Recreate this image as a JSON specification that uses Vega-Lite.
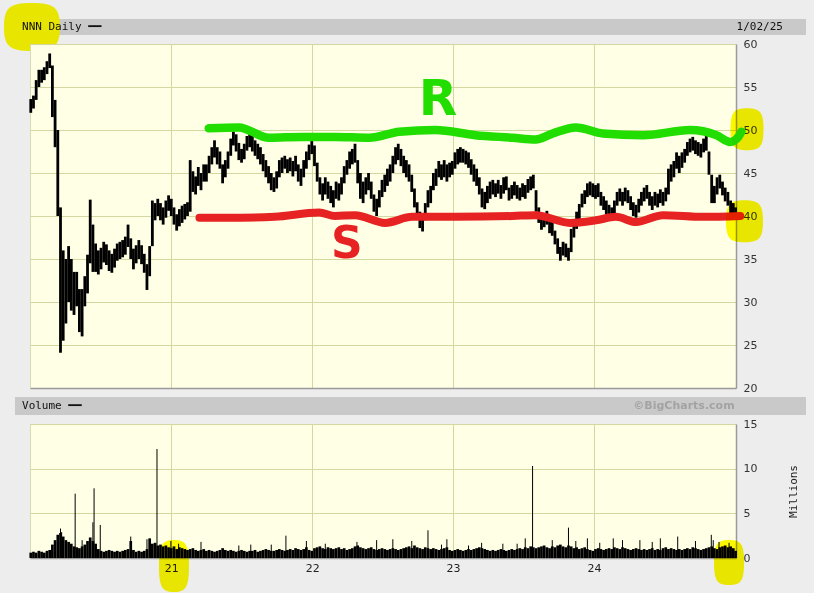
{
"$schema": "https://vega.github.io/schema/vega-lite/v6.json",
"background": "#ededed",
"padding": {"left": 3, "top": 3, "right": 9, "bottom": 1},
"config": {"view": {"stroke": null}, "font": "DejaVu Sans"},
"bounds": "flush",
"spacing": 9,
"datasets": {
"weeks": [
{"d":"2020-01-03","low":52.0,"high":53.6,"vol":0.6},{"d":"2020-01-10","low":52.5,"high":54.0,"vol":0.7},{"d":"2020-01-17","low":53.5,"high":55.8,"vol":0.6},{"d":"2020-01-24","low":55.0,"high":57.0,"vol":0.8},{"d":"2020-01-31","low":55.5,"high":57.0,"vol":0.7},{"d":"2020-02-07","low":55.8,"high":57.3,"vol":0.6},{"d":"2020-02-14","low":56.5,"high":58.0,"vol":0.8},{"d":"2020-02-21","low":57.2,"high":58.9,"vol":0.9},{"d":"2020-02-28","low":51.5,"high":57.5,"vol":1.5},{"d":"2020-03-06","low":48.0,"high":53.5,"vol":2.0},{"d":"2020-03-13","low":40.0,"high":50.0,"vol":2.6},{"d":"2020-03-20","low":24.1,"high":41.0,"vol":2.8},{"d":"2020-03-27","low":25.5,"high":36.0,"vol":2.4},{"d":"2020-04-03","low":27.5,"high":35.0,"vol":2.0},{"d":"2020-04-10","low":30.0,"high":36.5,"vol":1.8},{"d":"2020-04-17","low":29.0,"high":35.0,"vol":1.6},{"d":"2020-04-24","low":28.5,"high":33.5,"vol":1.3},{"d":"2020-05-01","low":29.5,"high":33.5,"vol":1.2},{"d":"2020-05-08","low":26.5,"high":31.5,"vol":1.1},{"d":"2020-05-15","low":26.0,"high":31.5,"vol":1.3},{"d":"2020-05-22","low":29.5,"high":33.0,"vol":1.5},{"d":"2020-05-29","low":31.0,"high":35.5,"vol":1.9},{"d":"2020-06-05","low":34.5,"high":41.9,"vol":2.3},{"d":"2020-06-12","low":33.5,"high":39.0,"vol":1.9},{"d":"2020-06-19","low":33.5,"high":36.8,"vol":1.6},{"d":"2020-06-26","low":33.2,"high":36.0,"vol":1.0},{"d":"2020-07-03","low":33.8,"high":36.3,"vol":0.8},{"d":"2020-07-10","low":34.6,"high":37.0,"vol":0.7},{"d":"2020-07-17","low":34.3,"high":36.7,"vol":0.8},{"d":"2020-07-24","low":33.6,"high":36.0,"vol":0.9},{"d":"2020-07-31","low":33.4,"high":35.6,"vol":0.8},{"d":"2020-08-07","low":34.0,"high":36.2,"vol":0.7},{"d":"2020-08-14","low":34.8,"high":36.8,"vol":0.8},{"d":"2020-08-21","low":35.0,"high":37.0,"vol":0.7},{"d":"2020-08-28","low":35.2,"high":37.2,"vol":0.8},{"d":"2020-09-04","low":35.5,"high":37.6,"vol":0.9},{"d":"2020-09-11","low":36.4,"high":39.0,"vol":1.0},{"d":"2020-09-18","low":35.0,"high":37.4,"vol":1.9},{"d":"2020-09-25","low":33.8,"high":36.2,"vol":0.9},{"d":"2020-10-02","low":34.5,"high":36.6,"vol":0.7},{"d":"2020-10-09","low":35.0,"high":37.2,"vol":0.8},{"d":"2020-10-16","low":34.4,"high":36.6,"vol":0.7},{"d":"2020-10-23","low":33.4,"high":35.6,"vol":0.8},{"d":"2020-10-30","low":31.4,"high":34.4,"vol":1.0},{"d":"2020-11-06","low":33.0,"high":36.5,"vol":2.2},{"d":"2020-11-13","low":36.5,"high":41.8,"vol":1.6},{"d":"2020-11-20","low":39.5,"high":41.5,"vol":1.7},{"d":"2020-11-27","low":40.0,"high":42.0,"vol":1.4},{"d":"2020-12-04","low":39.5,"high":41.5,"vol":1.5},{"d":"2020-12-11","low":39.0,"high":41.0,"vol":1.3},{"d":"2020-12-18","low":39.8,"high":41.8,"vol":1.4},{"d":"2020-12-25","low":40.6,"high":42.4,"vol":1.2},
{"d":"2021-01-01","low":40.0,"high":42.0,"vol":1.1},{"d":"2021-01-08","low":39.0,"high":41.0,"vol":1.3},{"d":"2021-01-15","low":38.3,"high":40.2,"vol":1.0},{"d":"2021-01-22","low":38.8,"high":40.8,"vol":1.2},{"d":"2021-01-29","low":39.2,"high":41.2,"vol":1.1},{"d":"2021-02-05","low":39.6,"high":41.4,"vol":1.0},{"d":"2021-02-12","low":40.0,"high":41.6,"vol":0.9},{"d":"2021-02-19","low":40.5,"high":46.5,"vol":1.0},{"d":"2021-02-26","low":42.8,"high":45.2,"vol":1.1},{"d":"2021-03-05","low":42.5,"high":44.6,"vol":0.9},{"d":"2021-03-12","low":43.5,"high":45.7,"vol":0.8},{"d":"2021-03-19","low":43.0,"high":45.0,"vol":0.9},{"d":"2021-03-26","low":44.0,"high":46.0,"vol":1.0},{"d":"2021-04-02","low":44.0,"high":46.0,"vol":0.8},{"d":"2021-04-09","low":45.0,"high":47.0,"vol":0.9},{"d":"2021-04-16","low":46.0,"high":48.0,"vol":0.8},{"d":"2021-04-23","low":46.8,"high":48.8,"vol":0.7},{"d":"2021-04-30","low":46.0,"high":48.0,"vol":0.8},{"d":"2021-05-07","low":45.5,"high":47.5,"vol":0.9},{"d":"2021-05-14","low":43.8,"high":46.0,"vol":1.1},{"d":"2021-05-21","low":44.5,"high":46.5,"vol":0.9},{"d":"2021-05-28","low":45.5,"high":47.5,"vol":0.8},{"d":"2021-06-04","low":47.0,"high":49.0,"vol":0.9},{"d":"2021-06-11","low":48.2,"high":49.8,"vol":0.8},{"d":"2021-06-18","low":47.5,"high":49.5,"vol":0.7},{"d":"2021-06-25","low":46.5,"high":48.5,"vol":0.8},{"d":"2021-07-02","low":46.2,"high":47.8,"vol":0.9},{"d":"2021-07-09","low":46.6,"high":48.4,"vol":0.8},{"d":"2021-07-16","low":47.6,"high":49.3,"vol":0.7},{"d":"2021-07-23","low":48.0,"high":49.8,"vol":0.8},{"d":"2021-07-30","low":47.5,"high":49.3,"vol":0.8},{"d":"2021-08-06","low":47.0,"high":48.8,"vol":0.9},{"d":"2021-08-13","low":46.6,"high":48.4,"vol":0.7},{"d":"2021-08-20","low":46.0,"high":48.0,"vol":0.8},{"d":"2021-08-27","low":45.2,"high":47.2,"vol":0.9},{"d":"2021-09-03","low":44.5,"high":46.5,"vol":1.0},{"d":"2021-09-10","low":43.8,"high":45.8,"vol":0.9},{"d":"2021-09-17","low":43.0,"high":45.0,"vol":0.8},{"d":"2021-09-24","low":42.8,"high":44.5,"vol":0.8},{"d":"2021-10-01","low":43.2,"high":45.2,"vol":0.9},{"d":"2021-10-08","low":44.5,"high":46.5,"vol":1.0},{"d":"2021-10-15","low":45.0,"high":46.8,"vol":0.9},{"d":"2021-10-22","low":45.5,"high":47.0,"vol":0.8},{"d":"2021-10-29","low":45.0,"high":46.6,"vol":0.9},{"d":"2021-11-05","low":45.2,"high":46.8,"vol":1.0},{"d":"2021-11-12","low":44.6,"high":46.4,"vol":0.9},{"d":"2021-11-19","low":45.2,"high":47.0,"vol":1.1},{"d":"2021-11-26","low":44.0,"high":46.0,"vol":1.0},{"d":"2021-12-03","low":43.5,"high":45.5,"vol":0.9},{"d":"2021-12-10","low":44.5,"high":46.5,"vol":1.0},{"d":"2021-12-17","low":45.5,"high":47.5,"vol":1.2},{"d":"2021-12-24","low":46.5,"high":48.3,"vol":0.9},{"d":"2021-12-31","low":47.2,"high":48.8,"vol":0.8},
{"d":"2022-01-07","low":45.8,"high":48.2,"vol":1.1},{"d":"2022-01-14","low":44.0,"high":46.2,"vol":1.2},{"d":"2022-01-21","low":42.5,"high":44.5,"vol":1.3},{"d":"2022-01-28","low":41.8,"high":43.8,"vol":1.1},{"d":"2022-02-04","low":42.5,"high":44.5,"vol":1.0},{"d":"2022-02-11","low":42.0,"high":44.0,"vol":1.2},{"d":"2022-02-18","low":41.5,"high":43.5,"vol":1.1},{"d":"2022-02-25","low":41.0,"high":43.0,"vol":1.0},{"d":"2022-03-04","low":42.0,"high":44.0,"vol":1.1},{"d":"2022-03-11","low":41.8,"high":43.8,"vol":1.2},{"d":"2022-03-18","low":42.5,"high":44.5,"vol":1.0},{"d":"2022-03-25","low":43.8,"high":45.8,"vol":1.1},{"d":"2022-04-01","low":44.8,"high":46.5,"vol":0.9},{"d":"2022-04-08","low":45.5,"high":47.5,"vol":1.0},{"d":"2022-04-15","low":46.0,"high":47.8,"vol":1.1},{"d":"2022-04-22","low":46.2,"high":48.4,"vol":1.3},{"d":"2022-04-29","low":43.8,"high":46.5,"vol":1.4},{"d":"2022-05-06","low":42.0,"high":45.0,"vol":1.2},{"d":"2022-05-13","low":41.5,"high":44.0,"vol":1.1},{"d":"2022-05-20","low":42.5,"high":44.5,"vol":1.0},{"d":"2022-05-27","low":43.0,"high":45.0,"vol":1.1},{"d":"2022-06-03","low":42.0,"high":44.0,"vol":1.2},{"d":"2022-06-10","low":40.5,"high":42.5,"vol":1.0},{"d":"2022-06-17","low":40.0,"high":42.0,"vol":0.9},{"d":"2022-06-24","low":41.0,"high":43.0,"vol":1.0},{"d":"2022-07-01","low":42.2,"high":44.2,"vol":1.1},{"d":"2022-07-08","low":42.8,"high":44.8,"vol":1.0},{"d":"2022-07-15","low":43.5,"high":45.5,"vol":0.9},{"d":"2022-07-22","low":44.0,"high":46.0,"vol":1.0},{"d":"2022-07-29","low":45.0,"high":47.0,"vol":1.1},{"d":"2022-08-05","low":46.0,"high":48.0,"vol":1.0},{"d":"2022-08-12","low":46.5,"high":48.4,"vol":0.9},{"d":"2022-08-19","low":45.8,"high":47.8,"vol":1.0},{"d":"2022-08-26","low":45.0,"high":47.0,"vol":1.1},{"d":"2022-09-02","low":44.5,"high":46.5,"vol":1.2},{"d":"2022-09-09","low":44.0,"high":46.0,"vol":1.3},{"d":"2022-09-16","low":42.8,"high":44.8,"vol":1.1},{"d":"2022-09-23","low":41.0,"high":43.2,"vol":1.4},{"d":"2022-09-30","low":39.6,"high":41.6,"vol":1.2},{"d":"2022-10-07","low":38.6,"high":40.5,"vol":1.1},{"d":"2022-10-14","low":38.2,"high":40.0,"vol":1.0},{"d":"2022-10-21","low":39.5,"high":41.5,"vol":1.2},{"d":"2022-10-28","low":41.0,"high":43.0,"vol":1.1},{"d":"2022-11-04","low":41.5,"high":43.5,"vol":1.0},{"d":"2022-11-11","low":43.0,"high":45.0,"vol":1.1},{"d":"2022-11-18","low":43.5,"high":45.5,"vol":1.0},{"d":"2022-11-25","low":44.5,"high":46.4,"vol":0.9},{"d":"2022-12-02","low":44.2,"high":46.0,"vol":1.0},{"d":"2022-12-09","low":44.5,"high":46.5,"vol":1.1},{"d":"2022-12-16","low":44.0,"high":46.0,"vol":1.2},{"d":"2022-12-23","low":44.5,"high":46.2,"vol":0.9},{"d":"2022-12-30","low":44.8,"high":46.4,"vol":0.8},
{"d":"2023-01-06","low":45.5,"high":47.4,"vol":0.9},{"d":"2023-01-13","low":46.0,"high":47.8,"vol":1.0},{"d":"2023-01-20","low":46.2,"high":48.0,"vol":0.9},{"d":"2023-01-27","low":46.2,"high":47.8,"vol":0.8},{"d":"2023-02-03","low":46.0,"high":47.6,"vol":0.9},{"d":"2023-02-10","low":45.6,"high":47.4,"vol":1.0},{"d":"2023-02-17","low":44.8,"high":46.6,"vol":0.9},{"d":"2023-02-24","low":44.0,"high":46.0,"vol":1.0},{"d":"2023-03-03","low":43.5,"high":45.5,"vol":1.1},{"d":"2023-03-10","low":42.5,"high":44.5,"vol":1.2},{"d":"2023-03-17","low":41.0,"high":43.2,"vol":1.1},{"d":"2023-03-24","low":40.8,"high":42.8,"vol":1.0},{"d":"2023-03-31","low":41.5,"high":43.5,"vol":0.9},{"d":"2023-04-07","low":42.0,"high":44.0,"vol":0.8},{"d":"2023-04-14","low":42.5,"high":44.2,"vol":0.9},{"d":"2023-04-21","low":42.2,"high":43.8,"vol":0.8},{"d":"2023-04-28","low":42.6,"high":44.2,"vol":0.9},{"d":"2023-05-05","low":42.0,"high":43.6,"vol":1.0},{"d":"2023-05-12","low":42.6,"high":44.5,"vol":0.9},{"d":"2023-05-19","low":43.0,"high":44.6,"vol":0.8},{"d":"2023-05-26","low":41.8,"high":43.3,"vol":0.9},{"d":"2023-06-02","low":42.0,"high":43.6,"vol":1.0},{"d":"2023-06-09","low":42.4,"high":44.0,"vol":0.9},{"d":"2023-06-16","low":42.0,"high":43.6,"vol":1.0},{"d":"2023-06-23","low":41.8,"high":43.3,"vol":1.1},{"d":"2023-06-30","low":42.2,"high":43.8,"vol":1.0},{"d":"2023-07-07","low":42.0,"high":43.6,"vol":1.2},{"d":"2023-07-14","low":42.7,"high":44.3,"vol":1.1},{"d":"2023-07-21","low":43.0,"high":44.6,"vol":1.3},{"d":"2023-07-28","low":43.2,"high":44.8,"vol":1.2},{"d":"2023-08-04","low":40.5,"high":43.0,"vol":1.1},{"d":"2023-08-11","low":39.2,"high":41.0,"vol":1.2},{"d":"2023-08-18","low":38.4,"high":40.0,"vol":1.3},{"d":"2023-08-25","low":38.7,"high":40.3,"vol":1.4},{"d":"2023-09-01","low":39.0,"high":40.6,"vol":1.2},{"d":"2023-09-08","low":38.0,"high":39.6,"vol":1.1},{"d":"2023-09-15","low":37.7,"high":39.3,"vol":1.3},{"d":"2023-09-22","low":36.7,"high":38.3,"vol":1.2},{"d":"2023-09-29","low":35.6,"high":37.4,"vol":1.4},{"d":"2023-10-06","low":34.8,"high":36.4,"vol":1.5},{"d":"2023-10-13","low":35.4,"high":37.0,"vol":1.3},{"d":"2023-10-20","low":35.2,"high":36.8,"vol":1.2},{"d":"2023-10-27","low":34.8,"high":36.3,"vol":1.4},{"d":"2023-11-03","low":35.8,"high":38.5,"vol":1.3},{"d":"2023-11-10","low":37.5,"high":39.5,"vol":1.1},{"d":"2023-11-17","low":38.5,"high":40.5,"vol":1.2},{"d":"2023-11-24","low":39.6,"high":41.4,"vol":1.0},{"d":"2023-12-01","low":41.0,"high":42.6,"vol":1.1},{"d":"2023-12-08","low":41.4,"high":43.0,"vol":1.2},{"d":"2023-12-15","low":42.2,"high":43.8,"vol":1.0},{"d":"2023-12-22","low":42.4,"high":44.0,"vol":0.9},{"d":"2023-12-29","low":42.2,"high":43.8,"vol":0.8},
{"d":"2024-01-05","low":42.0,"high":43.6,"vol":1.0},{"d":"2024-01-12","low":42.2,"high":43.8,"vol":1.1},{"d":"2024-01-19","low":41.2,"high":42.8,"vol":1.0},{"d":"2024-01-26","low":40.7,"high":42.3,"vol":0.9},{"d":"2024-02-02","low":40.2,"high":41.8,"vol":1.0},{"d":"2024-02-09","low":39.8,"high":41.3,"vol":1.1},{"d":"2024-02-16","low":39.5,"high":41.0,"vol":1.0},{"d":"2024-02-23","low":40.2,"high":41.8,"vol":1.2},{"d":"2024-03-01","low":41.2,"high":42.8,"vol":1.1},{"d":"2024-03-08","low":41.7,"high":43.2,"vol":1.0},{"d":"2024-03-15","low":41.2,"high":42.8,"vol":1.2},{"d":"2024-03-22","low":41.7,"high":43.3,"vol":1.1},{"d":"2024-03-29","low":41.5,"high":43.0,"vol":1.0},{"d":"2024-04-05","low":40.7,"high":42.3,"vol":0.9},{"d":"2024-04-12","low":40.0,"high":41.6,"vol":1.0},{"d":"2024-04-19","low":39.8,"high":41.3,"vol":1.1},{"d":"2024-04-26","low":40.4,"high":42.0,"vol":1.0},{"d":"2024-05-03","low":41.2,"high":42.8,"vol":0.9},{"d":"2024-05-10","low":41.7,"high":43.3,"vol":1.0},{"d":"2024-05-17","low":42.0,"high":43.6,"vol":0.9},{"d":"2024-05-24","low":41.2,"high":42.8,"vol":1.0},{"d":"2024-05-31","low":40.7,"high":42.3,"vol":1.1},{"d":"2024-06-07","low":41.2,"high":42.8,"vol":0.9},{"d":"2024-06-14","low":41.0,"high":42.6,"vol":1.0},{"d":"2024-06-21","low":41.5,"high":43.1,"vol":0.9},{"d":"2024-06-28","low":41.2,"high":42.8,"vol":1.1},{"d":"2024-07-05","low":41.7,"high":43.3,"vol":1.2},{"d":"2024-07-12","low":42.5,"high":45.5,"vol":1.0},{"d":"2024-07-19","low":44.0,"high":46.0,"vol":1.1},{"d":"2024-07-26","low":44.5,"high":46.4,"vol":1.0},{"d":"2024-08-02","low":45.5,"high":47.4,"vol":0.9},{"d":"2024-08-09","low":45.0,"high":47.0,"vol":1.0},{"d":"2024-08-16","low":45.6,"high":47.4,"vol":0.9},{"d":"2024-08-23","low":46.2,"high":47.8,"vol":1.0},{"d":"2024-08-30","low":47.0,"high":48.6,"vol":1.1},{"d":"2024-09-06","low":47.4,"high":49.0,"vol":1.0},{"d":"2024-09-13","low":47.6,"high":49.2,"vol":1.2},{"d":"2024-09-20","low":47.2,"high":48.8,"vol":1.1},{"d":"2024-09-27","low":47.0,"high":48.6,"vol":1.0},{"d":"2024-10-04","low":46.8,"high":48.4,"vol":0.9},{"d":"2024-10-11","low":47.4,"high":49.0,"vol":1.0},{"d":"2024-10-18","low":47.6,"high":49.3,"vol":1.1},{"d":"2024-10-25","low":44.8,"high":47.5,"vol":1.2},{"d":"2024-11-01","low":41.5,"high":44.8,"vol":1.3},{"d":"2024-11-08","low":41.5,"high":43.5,"vol":1.1},{"d":"2024-11-15","low":42.5,"high":44.5,"vol":1.0},{"d":"2024-11-22","low":43.2,"high":44.8,"vol":1.2},{"d":"2024-11-29","low":42.4,"high":44.0,"vol":1.3},{"d":"2024-12-06","low":41.7,"high":43.3,"vol":1.4},{"d":"2024-12-13","low":41.2,"high":42.8,"vol":1.2},{"d":"2024-12-20","low":40.2,"high":41.8,"vol":1.3},{"d":"2024-12-27","low":40.2,"high":41.5,"vol":1.1},{"d":"2025-01-02","low":40.2,"high":41.0,"vol":0.8}
],
"spikes": [
{"d":"2020-03-20","vol":3.3},{"d":"2020-03-23","vol":2.9},{"d":"2020-04-27","vol":7.2},{"d":"2020-05-15","vol":2.0},{"d":"2020-06-12","vol":4.0},{"d":"2020-06-15","vol":7.8},{"d":"2020-07-01","vol":3.7},{"d":"2020-09-18","vol":2.4},{"d":"2020-10-30","vol":2.1},{"d":"2020-11-25","vol":12.2},{"d":"2020-12-31","vol":1.9},{"d":"2021-01-20","vol":1.6},{"d":"2021-03-19","vol":1.8},{"d":"2021-06-25","vol":1.4},{"d":"2021-07-26","vol":1.5},{"d":"2021-09-17","vol":1.5},{"d":"2021-10-25","vol":2.5},{"d":"2021-12-17","vol":1.9},{"d":"2022-02-04","vol":1.6},{"d":"2022-04-27","vol":1.8},{"d":"2022-06-17","vol":2.0},{"d":"2022-07-29","vol":2.1},{"d":"2022-09-16","vol":1.9},{"d":"2022-10-28","vol":3.1},{"d":"2022-12-02","vol":1.5},{"d":"2022-12-16","vol":2.1},{"d":"2023-02-10","vol":1.4},{"d":"2023-03-16","vol":1.7},{"d":"2023-05-10","vol":1.6},{"d":"2023-06-16","vol":1.6},{"d":"2023-07-07","vol":2.2},{"d":"2023-07-26","vol":10.3},{"d":"2023-09-15","vol":2.0},{"d":"2023-10-27","vol":3.4},{"d":"2023-11-15","vol":1.9},{"d":"2023-12-15","vol":2.2},{"d":"2024-01-16","vol":1.7},{"d":"2024-02-20","vol":2.2},{"d":"2024-03-15","vol":2.0},{"d":"2024-04-29","vol":2.0},{"d":"2024-05-31","vol":1.8},{"d":"2024-06-21","vol":2.2},{"d":"2024-08-05","vol":2.4},{"d":"2024-09-20","vol":1.9},{"d":"2024-10-31","vol":2.6},{"d":"2024-11-05","vol":2.0},{"d":"2024-11-20","vol":1.8},{"d":"2024-12-16","vol":1.7}
],
"res": [
{"d":"2021-04-08","price":50.2},{"d":"2021-06-25","price":50.3},{"d":"2021-09-11","price":49.1},{"d":"2021-12-05","price":49.2},{"d":"2022-03-01","price":49.2},{"d":"2022-05-29","price":49.1},{"d":"2022-08-15","price":49.8},{"d":"2022-11-16","price":50.0},{"d":"2023-02-28","price":49.4},{"d":"2023-06-04","price":49.1},{"d":"2023-08-03","price":48.9},{"d":"2023-09-16","price":49.6},{"d":"2023-11-15","price":50.3},{"d":"2024-01-24","price":49.6},{"d":"2024-05-07","price":49.4},{"d":"2024-09-06","price":50.0},{"d":"2024-11-13","price":49.4},{"d":"2024-12-19","price":48.6},{"d":"2025-01-09","price":49.2},{"d":"2025-01-17","price":49.8}
],
"sup": [
{"d":"2021-03-15","price":39.8},{"d":"2021-07-02","price":39.8},{"d":"2021-09-26","price":39.9},{"d":"2022-01-19","price":40.4},{"d":"2022-03-01","price":40.0},{"d":"2022-04-22","price":40.1},{"d":"2022-07-09","price":39.2},{"d":"2022-09-17","price":39.9},{"d":"2023-01-07","price":39.9},{"d":"2023-06-04","price":40.0},{"d":"2023-08-03","price":40.1},{"d":"2023-10-31","price":39.2},{"d":"2024-01-06","price":39.5},{"d":"2024-02-27","price":39.9},{"d":"2024-04-19","price":39.3},{"d":"2024-06-28","price":40.1},{"d":"2024-10-10","price":39.9},{"d":"2025-01-14","price":40.0}
]
},
"vconcat": [
{
"width": 706, "height": 16,
"layer": [
{"data": {"values": [{}]},
 "mark": {"type": "rect", "color": "#c9c9c9"},
 "encoding": {"x": {"datum": {"year": 2019, "month": 11, "date": 23, "hours": 3, "minutes": 24, "utc": true}, "type": "temporal", "scale": {"type": "utc", "domain": [{"year": 2020, "month": 1, "date": 1, "utc": true}, {"year": 2025, "month": 1, "date": 3, "utc": true}]}, "axis": null},
  "x2": {"datum": {"year": 2025, "month": 7, "date": 3, "hours": 8, "minutes": 24, "utc": true}}}},
{"data": {"values": [{"d": "2020-01-06", "note": "highlight"}]},
 "mark": {"type": "point", "shape": "M 0 -0.857 C 0.8 -0.857 1 -0.686 1 0 C 1 0.686 0.8 0.857 0 0.857 C -0.8 0.857 -1 0.686 -1 0 C -1 -0.686 -0.8 -0.857 0 -0.857 Z", "size": 3136, "filled": true, "opacity": 1, "color": "#e8e600", "strokeWidth": 0, "clip": false},
 "encoding": {"x": {"field": "d", "type": "temporal", "scale": {"type": "utc", "domain": [{"year": 2020, "month": 1, "date": 1, "utc": true}, {"year": 2025, "month": 1, "date": 3, "utc": true}]}, "axis": null}}},
{"data": {"values": [{}]},
 "mark": {"type": "text", "text": "NNN Daily ━━", "align": "left", "font": "DejaVu Sans Mono", "fontSize": 11, "color": "#111111"},
 "encoding": {"x": {"datum": {"year": 2019, "month": 12, "date": 11, "hours": 7, "utc": true}, "type": "temporal", "scale": {"type": "utc", "domain": [{"year": 2020, "month": 1, "date": 1, "utc": true}, {"year": 2025, "month": 1, "date": 3, "utc": true}]}, "axis": null}}},
{"data": {"values": [{"d": "2025-01-02", "label": "1/02/25"}]},
 "mark": {"type": "text", "align": "left", "dx": 1, "font": "DejaVu Sans Mono", "fontSize": 11, "color": "#111111"},
 "encoding": {"x": {"field": "d", "type": "temporal", "scale": {"type": "utc", "domain": [{"year": 2020, "month": 1, "date": 1, "utc": true}, {"year": 2025, "month": 1, "date": 3, "utc": true}]}, "axis": null}, "text": {"field": "label"}}}
]
},
{
"width": 706, "height": 344,
"view": {"fill": "#ffffe6", "stroke": "#d9dcb0"},
"encoding": {
 "x": {"field": "d", "type": "temporal", "scale": {"type": "utc", "domain": [{"year": 2020, "month": 1, "date": 1, "utc": true}, {"year": 2025, "month": 1, "date": 3, "utc": true}]},
  "axis": {"values": [{"year": 2021, "month": 1, "date": 1, "utc": true}, {"year": 2022, "month": 1, "date": 1, "utc": true}, {"year": 2023, "month": 1, "date": 1, "utc": true}, {"year": 2024, "month": 1, "date": 1, "utc": true}], "labels": false, "ticks": false, "title": null, "grid": true, "gridColor": "#d3d7a0", "domainColor": "#9a9a9a", "domainWidth": 1.5}},
 "y": {"field": "price", "type": "quantitative", "scale": {"domain": [20, 60], "nice": false, "zero": false},
  "axis": {"orient": "right", "values": [20, 25, 30, 35, 40, 45, 50, 55, 60], "title": null, "ticks": false, "labelPadding": 7, "labelFontSize": 11, "labelColor": "#333333", "grid": true, "gridColor": "#d3d7a0", "domainColor": "#9a9a9a", "domainWidth": 1.5}}
},
"layer": [
{"data": {"name": "weeks"},
 "mark": {"type": "rule", "strokeWidth": 2.8, "color": "#000000"},
 "encoding": {"y": {"field": "low", "type": "quantitative", "scale": {"domain": [20, 60], "nice": false, "zero": false},
  "axis": {"orient": "right", "values": [20, 25, 30, 35, 40, 45, 50, 55, 60], "title": null, "ticks": false, "labelPadding": 7, "labelFontSize": 11, "labelColor": "#333333", "grid": true, "gridColor": "#d3d7a0", "domainColor": "#9a9a9a", "domainWidth": 1.5}}, "y2": {"field": "high"}}},
{"data": {"name": "res"},
 "mark": {"type": "line", "interpolate": "monotone", "strokeWidth": 8.5, "color": "#22dd00", "strokeCap": "round", "strokeJoin": "round", "clip": false}},
{"data": {"name": "sup"},
 "mark": {"type": "line", "interpolate": "monotone", "strokeWidth": 8, "color": "#e62222", "strokeCap": "round", "strokeJoin": "round", "clip": false}},
{"data": {"values": [{"d": "2022-11-23", "price": 53.5, "label": "R"}]},
 "mark": {"type": "text", "fontSize": 50, "fontWeight": "bold", "color": "#22dd00", "baseline": "middle"},
 "encoding": {"text": {"field": "label"}}},
{"data": {"values": [{"d": "2022-04-01", "price": 36.6, "label": "S"}]},
 "mark": {"type": "text", "fontSize": 44, "fontWeight": "bold", "color": "#e62222", "baseline": "middle"},
 "encoding": {"text": {"field": "label"}}},
{"data": {"values": [{"d": "2025-01-31T12:00:00Z", "price": 50.1}]},
 "mark": {"type": "point", "shape": "M 0 -1 C 0.629 -1 0.786 -0.8 0.786 0 C 0.786 0.8 0.629 1 0 1 C -0.629 1 -0.786 0.8 -0.786 0 C -0.786 -0.8 -0.629 -1 0 -1 Z", "size": 1764, "filled": true, "opacity": 1, "color": "#faf700", "blend": "multiply", "strokeWidth": 0, "clip": false}},
{"data": {"values": [{"d": "2025-01-25", "price": 39.4}]},
 "mark": {"type": "point", "shape": "M 0 -1 C 0.704 -1 0.88 -0.8 0.88 0 C 0.88 0.8 0.704 1 0 1 C -0.704 1 -0.88 0.8 -0.88 0 C -0.88 -0.8 -0.704 -1 0 -1 Z", "size": 1764, "filled": true, "opacity": 1, "color": "#faf700", "blend": "multiply", "strokeWidth": 0, "clip": false}}
]
},
{
"width": 706, "height": 18,
"layer": [
{"data": {"values": [{}]},
 "mark": {"type": "rect", "color": "#c9c9c9"},
 "encoding": {"x": {"datum": {"year": 2019, "month": 11, "date": 23, "hours": 3, "minutes": 24, "utc": true}, "type": "temporal", "scale": {"type": "utc", "domain": [{"year": 2020, "month": 1, "date": 1, "utc": true}, {"year": 2025, "month": 1, "date": 3, "utc": true}]}, "axis": null},
  "x2": {"datum": {"year": 2025, "month": 7, "date": 3, "hours": 8, "minutes": 24, "utc": true}}}},
{"data": {"values": [{}]},
 "mark": {"type": "text", "text": "Volume ━━", "align": "left", "font": "DejaVu Sans Mono", "fontSize": 11, "color": "#111111"},
 "encoding": {"x": {"datum": {"year": 2019, "month": 12, "date": 11, "hours": 7, "utc": true}, "type": "temporal", "scale": {"type": "utc", "domain": [{"year": 2020, "month": 1, "date": 1, "utc": true}, {"year": 2025, "month": 1, "date": 3, "utc": true}]}, "axis": null}}},
{"data": {"values": [{"d": "2025-01-02", "label": "©BigCharts.com"}]},
 "mark": {"type": "text", "align": "right", "dx": -1, "font": "DejaVu Sans", "fontWeight": "bold", "fontSize": 11, "color": "#a3a3a3"},
 "encoding": {"x": {"field": "d", "type": "temporal", "scale": {"type": "utc", "domain": [{"year": 2020, "month": 1, "date": 1, "utc": true}, {"year": 2025, "month": 1, "date": 3, "utc": true}]}, "axis": null}, "text": {"field": "label"}}}
]
},
{
"width": 706, "height": 134,
"view": {"fill": "#ffffe6", "stroke": "#d9dcb0"},
"encoding": {
 "x": {"field": "d", "type": "temporal", "scale": {"type": "utc", "domain": [{"year": 2020, "month": 1, "date": 1, "utc": true}, {"year": 2025, "month": 1, "date": 3, "utc": true}]},
  "axis": {"values": [{"year": 2021, "month": 1, "date": 1, "utc": true}, {"year": 2022, "month": 1, "date": 1, "utc": true}, {"year": 2023, "month": 1, "date": 1, "utc": true}, {"year": 2024, "month": 1, "date": 1, "utc": true}], "format": "%y", "labelFontSize": 11, "labelColor": "#222222", "labelPadding": 4, "ticks": false, "title": null, "grid": true, "gridColor": "#d3d7a0", "domainColor": "#9a9a9a", "domainWidth": 1.5}},
 "y": {"field": "vol", "type": "quantitative", "scale": {"domain": [0, 15], "nice": false, "zero": false},
  "axis": {"orient": "right", "values": [0, 5, 10, 15], "title": "Millions", "titleFont": "DejaVu Sans Mono", "titleFontSize": 11, "titleFontWeight": "normal", "titleColor": "#222222", "titleAngle": 270, "titlePadding": 42, "ticks": false, "labelPadding": 7, "labelFontSize": 11, "labelColor": "#333333", "grid": true, "gridColor": "#d3d7a0", "domainColor": "#9a9a9a", "domainWidth": 1.5}}
},
"layer": [
{"data": {"name": "weeks"},
 "mark": {"type": "rule", "strokeWidth": 2.7, "color": "#000000"},
 "encoding": {"y2": {"datum": 0}}},
{"data": {"name": "spikes"},
 "mark": {"type": "rule", "strokeWidth": 1, "color": "#000000"},
 "encoding": {"y2": {"datum": 0}}},
{"data": {"values": [{"d": "2021-01-08", "vol": -0.9}]},
 "mark": {"type": "point", "shape": "M 0 -1 C 0.462 -1 0.577 -0.8 0.577 0 C 0.577 0.8 0.462 1 0 1 C -0.462 1 -0.577 0.8 -0.577 0 C -0.577 -0.8 -0.462 -1 0 -1 Z", "size": 2704, "filled": true, "opacity": 1, "color": "#faf700", "blend": "multiply", "strokeWidth": 0, "clip": false}},
{"data": {"values": [{"d": "2024-12-16", "vol": -0.5}]},
 "mark": {"type": "point", "shape": "M 0 -1 C 0.533 -1 0.667 -0.8 0.667 0 C 0.667 0.8 0.533 1 0 1 C -0.533 1 -0.667 0.8 -0.667 0 C -0.667 -0.8 -0.533 -1 0 -1 Z", "size": 2025, "filled": true, "opacity": 1, "color": "#faf700", "blend": "multiply", "strokeWidth": 0, "clip": false}}
]
}
]
}
